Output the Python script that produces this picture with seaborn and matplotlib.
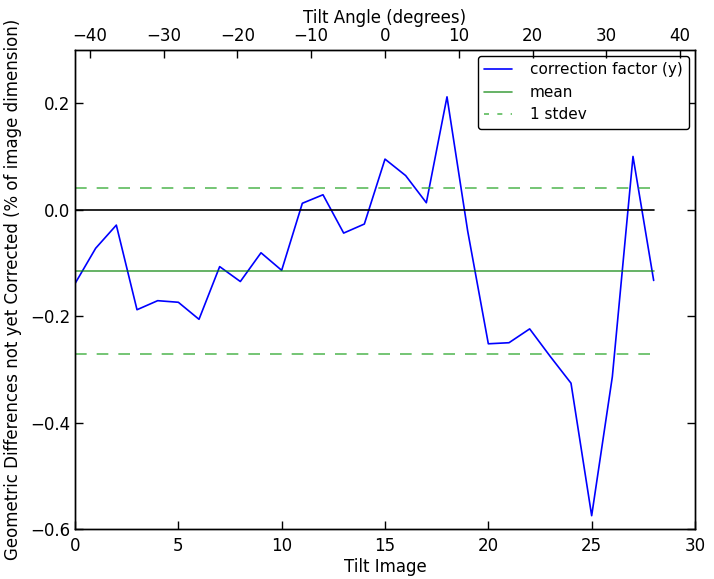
# Tilt series correction factor plot
import numpy as np
import pandas as pd
import matplotlib
matplotlib.use('Agg')
import matplotlib.pyplot as plt
import seaborn as sns

# values
tilt_image = list(range(29))
tilt_angle = list(range(-42, 43, 3))
correction = [-0.139, -0.0725, -0.029, -0.188, -0.171, -0.174, -0.206, -0.107,
              -0.135, -0.081, -0.114, 0.012, 0.028, -0.044, -0.027, 0.095,
              0.064, 0.013, 0.212, -0.040, -0.252, -0.250, -0.224, -0.276,
              -0.326, -0.575, -0.314, 0.100, -0.133]

df = pd.DataFrame({'image': tilt_image, 'angle': tilt_angle, 'y': correction})
mean = np.mean(correction)
std = np.std(correction)
df['zero'] = 0.0
df['mean'] = mean
df['upper'] = mean + std
df['lower'] = mean - std

sns.set_style('ticks')
plt.rcParams['font.family'] = ['DejaVu Sans']
plt.rcParams['font.size'] = 12
plt.rcParams['text.color'] = 'k'
plt.rcParams['axes.labelcolor'] = 'k'
plt.rcParams['axes.edgecolor'] = 'k'
plt.rcParams['xtick.color'] = 'k'
plt.rcParams['ytick.color'] = 'k'
plt.rcParams['xtick.direction'] = 'in'
plt.rcParams['ytick.direction'] = 'in'
plt.rcParams['xtick.major.size'] = 6
plt.rcParams['ytick.major.size'] = 6
plt.rcParams['axes.linewidth'] = 1.0

fig = plt.figure(figsize=(7.14, 5.79), dpi=100)
ax = fig.add_axes([75/714, 1 - 529/579, 620/714, 479/579])

dash = (7, 6)
sns.lineplot(data=df, x='image', y='y', ax=ax, color='b', lw=1.2,
             label='correction factor (y)')
sns.lineplot(data=df, x='image', y='zero', ax=ax, color='k', lw=1.2)
sns.lineplot(data=df, x='image', y='mean', ax=ax, color='g', alpha=0.7,
             lw=1.2, label='mean')
sns.lineplot(data=df, x='image', y='upper', ax=ax, color='#33aa33', alpha=0.8,
             lw=1.2, label='1 stdev')
ax.lines[-1].set_dashes(dash)
sns.lineplot(data=df, x='image', y='lower', ax=ax, color='#33aa33', alpha=0.8,
             lw=1.2)
ax.lines[-1].set_dashes(dash)

ax.set_xlim(0, 30)
ax.set_ylim(-0.6, 0.3)
ax.set_xticks(range(0, 31, 5))
ax.set_yticks([-0.6, -0.4, -0.2, 0.0, 0.2])
ax.set_xlabel('Tilt Image', fontsize=12, labelpad=2)
ax.set_ylabel('Geometric Differences not yet Corrected (% of image dimension)',
              fontsize=12, labelpad=6)
ax.tick_params(right=True, labelsize=12, width=1)
ax.tick_params(axis='x', pad=6)

leg = ax.legend(loc='upper right', fontsize=11, frameon=True, fancybox=True,
                edgecolor='k', framealpha=1, handlelength=1.8,
                handletextpad=1.2, borderaxespad=0.4)
leg.get_frame().set_linewidth(1.0)
leg.get_lines()[2].set_dashes((3, 5))

ax2 = ax.twiny()
ax2.set_xlim(-42, 42)
ax2.set_xticks(range(-40, 41, 10))
ax2.set_xlabel('Tilt Angle (degrees)', fontsize=12, labelpad=3)
ax2.tick_params(labelsize=12, width=1)

fig.savefig('out.png', dpi=100, facecolor='white')
